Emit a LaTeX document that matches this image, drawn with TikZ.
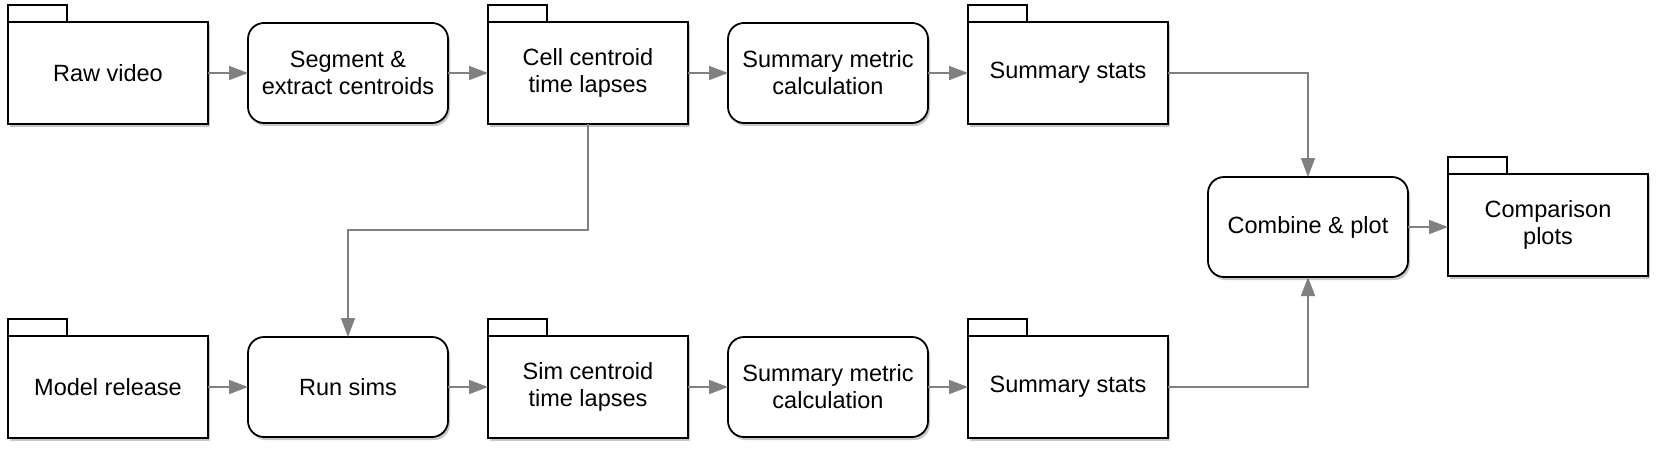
\documentclass[tikz,border=0pt]{standalone}
\usepackage{fontspec}
\setmainfont{Liberation Sans}
\usetikzlibrary{arrows.meta, shadows}

\definecolor{linegray}{HTML}{808080}

\tikzset{
	box/.style={draw, line width=1.8pt, fill=white, align=center, outer sep=0pt,
		font=\fontsize{23.5}{27}\selectfont,
		drop shadow={shadow xshift=2pt, shadow yshift=-3pt, opacity=0.22, fill=black}},
	folder/.style={box, minimum width=200pt, minimum height=102pt},
	process/.style={box, rounded corners=16pt, minimum width=200pt, minimum height=100pt},
	tab/.style={draw, line width=1.8pt, fill=white},
	flow/.style={draw=linegray, line width=1.6pt, -{Triangle[length=19pt, width=14pt]}, color=linegray},
}

\begin{document}
\begin{tikzpicture}[x=1pt, y=-1pt]
	\useasboundingbox (0, 0) rectangle (1656, 450);

	%% top row
	\node[folder] (raw)    at (108, 73) {Raw video};
	\node[process] (seg)   at (348, 73) {Segment \&\\extract centroids};
	\node[folder] (cell)   at (588, 73) {Cell centroid\\time lapses};
	\node[process] (calc1) at (828, 73) {Summary metric\\calculation};
	\node[folder] (stats1) at (1068, 73) {Summary stats};

	%% bottom row
	\node[folder] (model)  at (108, 387) {Model release};
	\node[process] (sims)  at (348, 387) {Run sims};
	\node[folder] (sim)    at (588, 387) {Sim centroid\\time lapses};
	\node[process] (calc2) at (828, 387) {Summary metric\\calculation};
	\node[folder] (stats2) at (1068, 387) {Summary stats};

	%% combine
	\node[process] (comb) at (1308, 227) {Combine \& plot};
	\node[folder] (comp)  at (1548, 225) {Comparison\\plots};

	%% folder tabs
	\draw[tab] (raw.north west) rectangle ++(59pt, 17pt);
	\draw[tab] (cell.north west) rectangle ++(59pt, 17pt);
	\draw[tab] (stats1.north west) rectangle ++(59pt, 17pt);
	\draw[tab] (model.north west) rectangle ++(59pt, 17pt);
	\draw[tab] (sim.north west) rectangle ++(59pt, 17pt);
	\draw[tab] (stats2.north west) rectangle ++(59pt, 17pt);
	\draw[tab] (comp.north west) rectangle ++(59pt, 17pt);

	%% top row arrows
	\draw[flow] (raw.east) -- (seg.west);
	\draw[flow] (seg.east) -- (cell.west);
	\draw[flow] (cell.east) -- (calc1.west);
	\draw[flow] (calc1.east) -- (stats1.west);

	%% bottom row arrows
	\draw[flow] (model.east) -- (sims.west);
	\draw[flow] (sims.east) -- (sim.west);
	\draw[flow] (sim.east) -- (calc2.west);
	\draw[flow] (calc2.east) -- (stats2.west);

	%% cell centroids feed the sims
	\coordinate (split) at (588, 230);
	\draw[flow] (cell.south) -- (split) -| (sims.north);

	%% merge
	\draw[flow] (stats1.east) -| (comb.north);
	\draw[flow] (stats2.east) -| (comb.south);
	\draw[flow] (comb.east) -- (comb.east -| comp.west);
\end{tikzpicture}
\end{document}
